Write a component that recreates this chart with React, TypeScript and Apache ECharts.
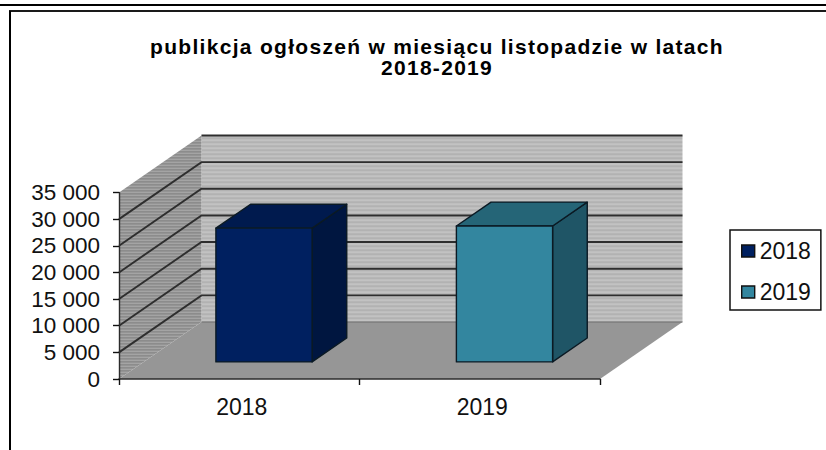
import React, { useEffect, useRef } from "react";
import * as echarts from "echarts";

const categories = ["2018", "2019"];
const values2018 = [25100];
const values2019 = [25500];
const tickValues = [0, 5000, 10000, 15000, 20000, 25000, 30000, 35000];
const titleText = "publikcja ogłoszeń w miesiącu listopadzie w latach\n2018-2019";

const DX = 82.5;
const DY = -57;
const NEAR = 0.3;
const FAR = 0.72;
const BAR_SHARE = 0.4;
const FONT = '"Liberation Sans", Arial, sans-serif';

function stripes(size: [number, number], rows: string[]) {
  const c = document.createElement("canvas");
  c.width = size[0];
  c.height = size[1];
  const ctx = c.getContext("2d")!;
  rows.forEach((col, i) => {
    ctx.fillStyle = col;
    ctx.fillRect(0, i, size[0], 1);
  });
  return c;
}

export default function App() {
  const ref = useRef<HTMLDivElement>(null);
  useEffect(() => {
    const chart = echarts.init(ref.current!, undefined, { renderer: "svg" });
    const backFill = { image: stripes([4, 4], ["#c2c2c2", "#b6b6b6", "#b2b2b2", "#bebebe"]), repeat: "repeat" };
    const sideFill = { image: stripes([4, 3], ["#a4a4a4", "#8c8c8c", "#949494"]), repeat: "repeat" };

    const wallItem = (params: any, api: any) => {
      const cs = params.coordSys;
      const left = cs.x;
      const right = cs.x + cs.width;
      const bottom = cs.y + cs.height;
      const top = cs.y;
      const y = api.coord([0, api.value(1)])[1];
      const children: any[] = [];
      if (params.dataIndex === 0) {
        children.push({
          type: "polygon",
          shape: { points: [[left + DX, bottom + DY], [right + DX, bottom + DY], [right + DX, top + DY], [left + DX, top + DY]] },
          style: { fill: backFill },
        });
        children.push({
          type: "polygon",
          shape: { points: [[left, bottom], [left + DX, bottom + DY], [left + DX, top + DY], [left, top]] },
          style: { fill: sideFill },
        });
        children.push({
          type: "polygon",
          shape: { points: [[left, bottom], [right, bottom], [right + DX, bottom + DY], [left + DX, bottom + DY]] },
          style: { fill: "#969696" },
        });
      }
      const isZero = params.dataIndex === 0;
      const isEdge = params.dataIndex === tickValues.length - 1;
      children.push({
        type: "polyline",
        shape: {
          points: isZero || isEdge
            ? [[left + DX, y + DY], [right + DX, y + DY]]
            : [[left, y], [left + DX, y + DY], [right + DX, y + DY]],
        },
        style: { fill: "none", stroke: isZero ? "#6e6e6e" : "#2e2e2e", lineWidth: isZero ? 1 : 1.9 },
      });
      return { type: "group", children };
    };

    const barItem = (colors: { front: string; top: string; side: string }) => (params: any, api: any) => {
      const band = api.size([1, 0])[0];
      const w = band * BAR_SHARE;
      const head = api.coord([api.value(0), api.value(1)]);
      const foot = api.coord([api.value(0), 0]);
      const x0 = head[0] - w / 2 + DX * NEAR;
      const x1 = x0 + w;
      const yTop = head[1] + DY * NEAR;
      const yBase = foot[1] + DY * NEAR;
      const ox = DX * (FAR - NEAR);
      const oy = DY * (FAR - NEAR);
      const outline = { stroke: "#0b1a24", lineWidth: 1.4, lineJoin: "round" };
      return {
        type: "group",
        children: [
          { type: "polygon", shape: { points: [[x1, yBase], [x1 + ox, yBase + oy], [x1 + ox, yTop + oy], [x1, yTop]] }, style: { fill: colors.side, ...outline } },
          { type: "polygon", shape: { points: [[x0, yTop], [x1, yTop], [x1 + ox, yTop + oy], [x0 + ox, yTop + oy]] }, style: { fill: colors.top, ...outline } },
          { type: "rect", shape: { x: x0, y: yTop, width: w, height: yBase - yTop }, style: { fill: colors.front, ...outline } },
        ],
      };
    };

    const textColor = "#111111";
    chart.setOption({
      animation: false,
      backgroundColor: "#ffffff",
      title: {
        text: titleText,
        left: 432,
        top: 31,
        textAlign: "center",
        textStyle: { fontFamily: FONT, fontSize: 21, fontWeight: "bold", color: "#000", lineHeight: 21 },
      },
      grid: { left: 119, top: 192.5, width: 481, height: 186.5 },
      xAxis: {
        type: "category",
        data: categories,
        z: 5,
        axisLine: { lineStyle: { color: "#2b2b2b", width: 1.6 } },
        axisTick: { show: true, length: 6, alignWithLabel: false, lineStyle: { color: "#111", width: 1.4 } },
        axisLabel: { fontFamily: FONT, fontSize: 23, color: textColor, margin: 16, padding: [0, 0, 0, 5] },
        splitLine: { show: false },
      },
      yAxis: {
        type: "value",
        min: 0,
        max: 35000,
        interval: 5000,
        z: 5,
        axisLine: { show: true, lineStyle: { color: "#2b2b2b", width: 1.4 } },
        axisTick: { show: true, length: 6, lineStyle: { color: "#111", width: 1.4 } },
        axisLabel: {
          fontFamily: FONT,
          fontSize: 22.5,
          color: textColor,
          margin: 19,
          formatter: (v: number) => String(v).replace(/\B(?=(\d{3})+$)/g, " "),
        },
        splitLine: { show: false },
      },
      legend: {
        data: categories,
        orient: "vertical",
        left: 730,
        top: 230,
        padding: [9, 10, 6, 11],
        itemWidth: 13,
        itemHeight: 12,
        itemGap: 17,
        icon: "rect",
        borderColor: "#111",
        borderWidth: 1.5,
        backgroundColor: "#fff",
        itemStyle: { borderColor: "#111", borderWidth: 1.4 },
        textStyle: { fontFamily: FONT, fontSize: 23, color: textColor, lineHeight: 24 },
      },
      series: [
        {
          type: "custom",
          silent: true,
          z: 0,
          renderItem: wallItem,
          clip: false,
          data: tickValues.map((v) => [0, v]),
          encode: { x: 0, y: 1 },
        },
        {
          type: "custom",
          name: categories[0],
          z: 2,
          itemStyle: { color: "#002060" },
          renderItem: barItem({ front: "#002060", top: "#001a4e", side: "#001640" }),
          clip: false,
          data: values2018.map((v) => [categories[0], v]),
          encode: { x: 0, y: 1 },
        },
        {
          type: "custom",
          name: categories[1],
          z: 2,
          itemStyle: { color: "#33869f" },
          renderItem: barItem({ front: "#33869f", top: "#256577", side: "#1f5566" }),
          clip: false,
          data: values2019.map((v) => [categories[1], v]),
          encode: { x: 0, y: 1 },
        },
      ],
      graphic: [
        { type: "line", shape: { x1: 0, y1: 5, x2: 826, y2: 5 }, style: { stroke: "#000", lineWidth: 2 } },
        { type: "line", shape: { x1: 9, y1: 11, x2: 826, y2: 11 }, style: { stroke: "#1a1a1a", lineWidth: 2 } },
        { type: "line", shape: { x1: 10, y1: 11, x2: 10, y2: 450 }, style: { stroke: "#000", lineWidth: 2 } },
      ],
    });
    return () => chart.dispose();
  }, []);
  return (
    <>
      <style>{`text[style*="bold"]{letter-spacing:1.3px}`}</style>
      <div ref={ref} style={{ position: "absolute", left: 0, top: 0, width: 826, height: 450 }} />
    </>
  );
}
